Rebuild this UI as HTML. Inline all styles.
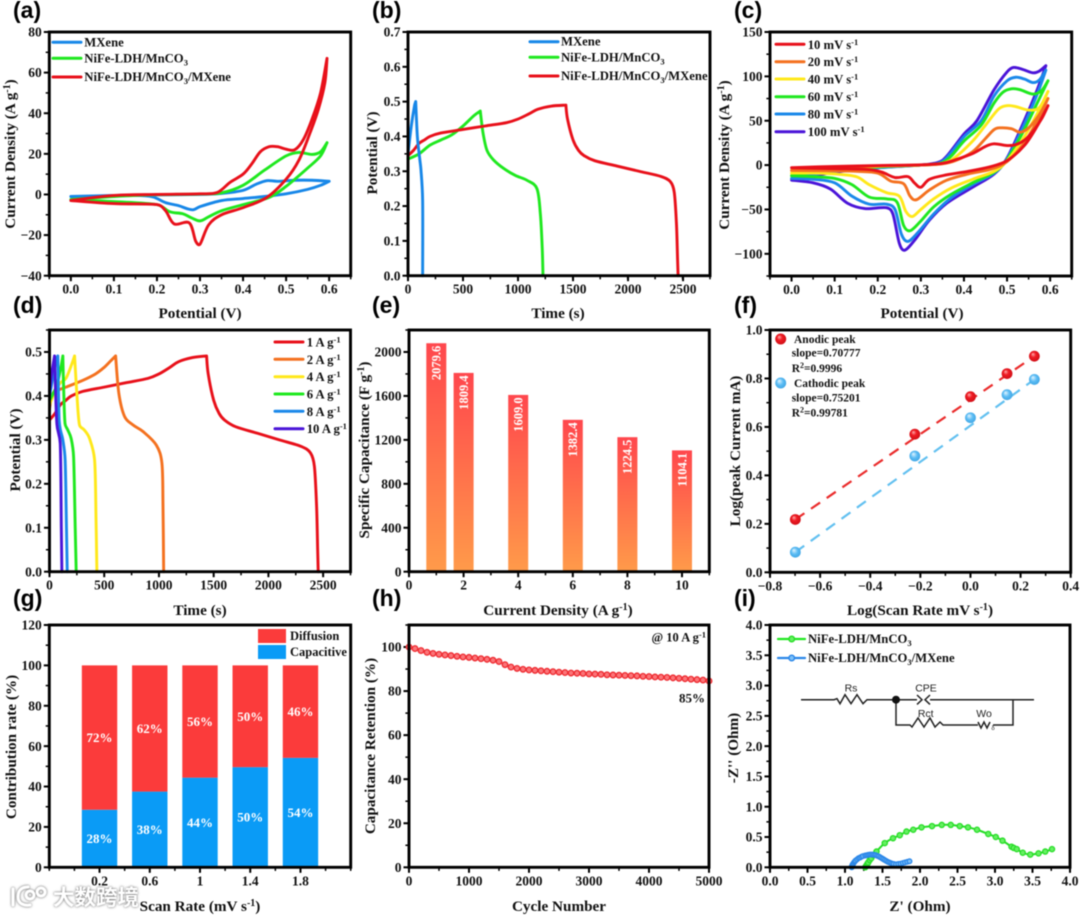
<!DOCTYPE html>
<html lang="en">
<head>
<meta charset="utf-8">
<title>Electrochemical performance figure</title>
<style>
html,body{margin:0;padding:0;background:#fff;width:1080px;height:916px;overflow:hidden}
#figure{display:block;filter:blur(0.5px);font-family:"Liberation Serif","Noto Serif CJK SC",serif;font-weight:bold;fill:#111}
.panel-letter{font-family:"Liberation Sans",sans-serif;font-size:23px;font-weight:bold;fill:#000}
.axis-title{font-size:15.2px;text-anchor:middle}
.legend-text{font-size:12.7px}
.legend-line{stroke-width:3;fill:none;stroke-linecap:round}
.circuit{stroke:#222;stroke-width:1.5;fill:none}
.circuit-text{font-family:"Liberation Sans",sans-serif;font-size:10.5px;font-weight:normal;fill:#222;text-anchor:middle}
</style>
</head>
<body>
<svg id="figure" xmlns="http://www.w3.org/2000/svg" width="1080" height="916" viewBox="0 0 1080 916">
<defs>
<linearGradient id="barGradient" x1="0" y1="0" x2="0" y2="1"><stop offset="0" stop-color="#ff474d"/><stop offset="1" stop-color="#ff9b4a"/></linearGradient>
<radialGradient id="redSphere" cx="0.5" cy="0.5" r="0.6" fx="0.35" fy="0.3"><stop offset="0" stop-color="#ffb0b0"/><stop offset="0.4" stop-color="#f01c24"/><stop offset="1" stop-color="#c80c14"/></radialGradient>
<radialGradient id="blueSphere" cx="0.5" cy="0.5" r="0.6" fx="0.35" fy="0.3"><stop offset="0" stop-color="#e4f5ff"/><stop offset="0.5" stop-color="#5bbcf4"/><stop offset="1" stop-color="#3aa0e0"/></radialGradient>
</defs>

<text class="panel-letter" x="13" y="18">(a)</text>
<text class="panel-letter" x="372" y="18">(b)</text>
<text class="panel-letter" x="734" y="18">(c)</text>
<text class="panel-letter" x="13" y="313">(d)</text>
<text class="panel-letter" x="372" y="313">(e)</text>
<text class="panel-letter" x="734" y="313">(f)</text>
<text class="panel-letter" x="13" y="606">(g)</text>
<text class="panel-letter" x="372" y="606">(h)</text>
<text class="panel-letter" x="734" y="606">(i)</text>

<text class="axis-title" x="200" y="318">Potential (V)</text>
<text class="axis-title" x="558" y="318">Time (s)</text>
<text class="axis-title" x="922" y="318">Potential (V)</text>
<text class="axis-title" x="200" y="615">Time (s)</text>
<text class="axis-title" x="558" y="615">Current Density (A g<tspan dy="-5" font-size="10">-1</tspan><tspan dy="5">)</tspan></text>
<text class="axis-title" x="920" y="615">Log(Scan Rate mV s<tspan dy="-5" font-size="10">-1</tspan><tspan dy="5">)</tspan></text>
<text class="axis-title" x="200" y="911">Scan Rate (mV s<tspan dy="-5" font-size="10">-1</tspan><tspan dy="5">)</tspan></text>
<text class="axis-title" x="559" y="911">Cycle Number</text>
<text class="axis-title" x="920" y="911">Z' (Ohm)</text>

<text class="axis-title" transform="rotate(-90 15 154)" x="15" y="154">Current Density (A g<tspan dy="-5" font-size="10">-1</tspan><tspan dy="5">)</tspan></text>
<text class="axis-title" transform="rotate(-90 377 153)" x="377" y="153">Potential (V)</text>
<text class="axis-title" transform="rotate(-90 729 155)" x="729" y="155">Current Density (A g<tspan dy="-5" font-size="10">-1</tspan><tspan dy="5">)</tspan></text>
<text class="axis-title" transform="rotate(-90 20 450)" x="20" y="450">Potential (V)</text>
<text class="axis-title" transform="rotate(-90 369 450)" x="369" y="450">Specific Capacitance (F g<tspan dy="-5" font-size="10">-1</tspan><tspan dy="5">)</tspan></text>
<text class="axis-title" transform="rotate(-90 740 451)" x="740" y="451">Log(peak Current mA)</text>
<text class="axis-title" transform="rotate(-90 16 747)" x="16" y="747">Contribution rate (%)</text>
<text class="axis-title" transform="rotate(-90 375 746)" x="375" y="746">Capacitance Retention (%)</text>
<text class="axis-title" transform="rotate(-90 738 748)" x="738" y="748">-Z'' (Ohm)</text>

<g id="plots"></g>

<g>
<line class="legend-line" x1="53" x2="81" y1="42.3" y2="42.3" stroke="#1787e8"/>
<text class="legend-text" x="84.3" y="46.7">MXene</text>
<line class="legend-line" x1="53" x2="81" y1="58.3" y2="58.3" stroke="#1fe81f"/>
<text class="legend-text" x="84.3" y="62.5">NiFe-LDH/MnCO<tspan dy="3" font-size="8.5">3</tspan></text>
<line class="legend-line" x1="53" x2="81" y1="77" y2="77" stroke="#e8101a"/>
<text class="legend-text" x="84.3" y="81">NiFe-LDH/MnCO<tspan dy="3" font-size="8.5">3</tspan><tspan dy="-3">/MXene</tspan></text>
</g>
<g>
<line class="legend-line" x1="530" x2="558" y1="41.7" y2="41.7" stroke="#1787e8"/>
<text class="legend-text" x="561" y="45.7">MXene</text>
<line class="legend-line" x1="530" x2="558" y1="57.3" y2="57.3" stroke="#1fe81f"/>
<text class="legend-text" x="561" y="61.5">NiFe-LDH/MnCO<tspan dy="3" font-size="8.5">3</tspan></text>
<line class="legend-line" x1="530" x2="558" y1="76" y2="76" stroke="#e8101a"/>
<text class="legend-text" x="561" y="80">NiFe-LDH/MnCO<tspan dy="3" font-size="8.5">3</tspan><tspan dy="-3">/MXene</tspan></text>
</g>
<g>
<line class="legend-line" x1="776" x2="804" y1="44.3" y2="44.3" stroke="#e8101a"/>
<text class="legend-text" x="807.7" y="48.8">10 mV s<tspan dy="-4" font-size="8.5">-1</tspan></text>
<line class="legend-line" x1="776" x2="804" y1="61.7" y2="61.7" stroke="#f4711f"/>
<text class="legend-text" x="807.7" y="66.2">20 mV s<tspan dy="-4" font-size="8.5">-1</tspan></text>
<line class="legend-line" x1="776" x2="804" y1="79" y2="79" stroke="#ffe81a"/>
<text class="legend-text" x="807.7" y="83.5">40 mV s<tspan dy="-4" font-size="8.5">-1</tspan></text>
<line class="legend-line" x1="776" x2="804" y1="96.7" y2="96.7" stroke="#1fe81f"/>
<text class="legend-text" x="807.7" y="101.2">60 mV s<tspan dy="-4" font-size="8.5">-1</tspan></text>
<line class="legend-line" x1="776" x2="804" y1="114" y2="114" stroke="#1a88ea"/>
<text class="legend-text" x="807.7" y="118.5">80 mV s<tspan dy="-4" font-size="8.5">-1</tspan></text>
<line class="legend-line" x1="776" x2="804" y1="131.7" y2="131.7" stroke="#4a14d8"/>
<text class="legend-text" x="807.7" y="136.2">100 mV s<tspan dy="-4" font-size="8.5">-1</tspan></text>
</g>
<g>
<line class="legend-line" x1="275" x2="303" y1="342" y2="342" stroke="#e8101a"/>
<text class="legend-text" x="306.7" y="346.5">1 A g<tspan dy="-4" font-size="8.5">-1</tspan></text>
<line class="legend-line" x1="275" x2="303" y1="359.3" y2="359.3" stroke="#f4711f"/>
<text class="legend-text" x="306.7" y="363.8">2 A g<tspan dy="-4" font-size="8.5">-1</tspan></text>
<line class="legend-line" x1="275" x2="303" y1="376.7" y2="376.7" stroke="#ffe81a"/>
<text class="legend-text" x="306.7" y="381.2">4 A g<tspan dy="-4" font-size="8.5">-1</tspan></text>
<line class="legend-line" x1="275" x2="303" y1="394" y2="394" stroke="#1fe81f"/>
<text class="legend-text" x="306.7" y="398.5">6 A g<tspan dy="-4" font-size="8.5">-1</tspan></text>
<line class="legend-line" x1="275" x2="303" y1="411.3" y2="411.3" stroke="#1a88ea"/>
<text class="legend-text" x="306.7" y="415.8">8 A g<tspan dy="-4" font-size="8.5">-1</tspan></text>
<line class="legend-line" x1="275" x2="303" y1="428.7" y2="428.7" stroke="#4a14d8"/>
<text class="legend-text" x="306.7" y="433.2">10 A g<tspan dy="-4" font-size="8.5">-1</tspan></text>
</g>
<g font-size="11.5">
<circle cx="780.7" cy="339" r="5.5" fill="url(#redSphere)"/>
<text x="794" y="343">Anodic peak</text>
<text x="791.7" y="356.7">slope=0.70777</text>
<text x="791.7" y="372">R<tspan dy="-4" font-size="8">2</tspan><tspan dy="4">=0.9996</tspan></text>
<circle cx="780.7" cy="383" r="5.5" fill="url(#blueSphere)"/>
<text x="794" y="387">Cathodic peak</text>
<text x="791.7" y="401.7">slope=0.75201</text>
<text x="791.7" y="416.7">R<tspan dy="-4" font-size="8">2</tspan><tspan dy="4">=0.99781</tspan></text>
</g>
<g>
<rect x="258" y="629" width="28" height="14" fill="#fb3b3b"/>
<text x="290" y="640" font-size="12.5">Diffusion</text>
<rect x="258" y="645" width="28" height="14" fill="#0a9bf6"/>
<text x="290" y="656" font-size="12.5">Capacitive</text>
</g>
<text x="706" y="641.7" font-size="12.5" text-anchor="end">@ 10 A g<tspan dy="-4" font-size="8.5">-1</tspan></text>
<text x="692" y="702.7" font-size="13" text-anchor="middle">85%</text>
<g>
<line class="legend-line" x1="778" x2="805" y1="639" y2="639" stroke="#1fe81f" style="stroke-width:2.2"/>
<circle cx="791.7" cy="639" r="2.8" fill="#66f062" stroke="#26dd26" stroke-width="1.4"/>
<text class="legend-text" x="808" y="643">NiFe-LDH/MnCO<tspan dy="3" font-size="8.5">3</tspan></text>
<line class="legend-line" x1="778" x2="805" y1="658" y2="658" stroke="#2a86e8" style="stroke-width:2.2"/>
<circle cx="791.7" cy="658" r="2.8" fill="#7cc0f8" stroke="#2a86e8" stroke-width="1.4"/>
<text class="legend-text" x="808" y="662">NiFe-LDH/MnCO<tspan dy="3" font-size="8.5">3</tspan><tspan dy="-3">/MXene</tspan></text>
</g>
<g>
<path class="circuit" d="M801 699.7H834l3 -1 3 5 5 -9 6 9 6 -9 6 9 4 -4H917M930 699.7H1034M1013 699.7V725H993M978 725H943l-3 -3 -5 5 -5 -9 -6 9 -6 -9 -6 9 -2 -2H896V699.7"/>
<path class="circuit" d="M917 695l5 4.7 -5 4.7M930 695l-5 4.7 5 4.7"/>
<path class="circuit" d="M978 722l3 6 3 -6 3 6 3 -6"/>
<circle cx="896" cy="699.7" r="4" fill="#111"/>
<text class="circuit-text" x="851" y="691.7">Rs</text>
<text class="circuit-text" x="926" y="691.7">CPE</text>
<text class="circuit-text" x="925.7" y="717">Rct</text>
<text class="circuit-text" x="984" y="717">Wo</text>
<text class="circuit-text" x="993" y="730" style="font-size:6px">δ</text>
</g>
<g style="filter:drop-shadow(0 0 1.2px #555)">
<path d="M13 889V905M28 887C20 887 18 892 18 897C18 903 23 906 30 905M30 891a4 4 0 1 0 .1 0M41 888a4 4 0 1 0 .1 0" fill="none" stroke="#fff" stroke-width="3" stroke-linecap="round"/>
<text x="53" y="905" font-size="21.5" style="font-family:'Noto Sans CJK SC',sans-serif;font-weight:bold" fill="#fff">大数跨境</text>
</g>
</svg>

<script>
/* ---------- panel (a) ---------- */
const aMxeneX = [0,0.1,0.2,0.3,0.35,0.4,0.43,0.455,0.48,0.52,0.56,0.6,0.58,0.55,0.5,0.45,0.4,0.35,0.3,0.285,0.27,0.25,0.22,0.19,0.15,0];
const aMxeneY = [-1,-0.5,-0.2,0,0.5,2,5,6.8,6.5,7,7,6.5,4.5,2.5,0.3,-1,-2,-3,-6,-7.5,-7,-5.5,-4,-1.2,-0.5,-1];
const aLdhX = [0,0.1,0.2,0.3,0.35,0.4,0.45,0.5,0.53,0.56,0.58,0.595,0.58,0.55,0.5,0.46,0.4,0.35,0.32,0.3,0.28,0.26,0.23,0.2,0.1,0];
const aLdhY = [-2.5,-1,-0.1,0.2,0.8,4.5,12,19,20.7,19.7,21,25.5,19,13,4,-1.5,-5,-8,-11,-13,-11.5,-9.5,-8.5,-5,-3.5,-2.5];
const aCompX = [0,0.1,0.2,0.3,0.34,0.37,0.4,0.42,0.44,0.46,0.48,0.5,0.52,0.54,0.56,0.58,0.595,0.59,0.575,0.555,0.53,0.5,0.455,0.4,0.35,0.32,0.3,0.29,0.275,0.24,0.22,0.2,0.1,0];
const aCompY = [-3,-0.5,0,0.3,1,6,10,15,21,23.5,23.5,22.3,22,27,37,50,67,55,42,30,17,7.5,-1.5,-6.5,-10,-15,-24.5,-23,-14,-14.5,-8,-5,-4.5,-3];
const aXTicks = [0,0.1,0.2,0.3,0.4,0.5,0.6];
const aYTicks = [-40,-20,0,20,40,60,80];

/* ---------- panel (b) ---------- */
const bMxeneT = [0,30,60,70,85,105,118,133,133];
const bMxeneV = [0.35,0.43,0.49,0.5,0.4,0.34,0.303,0.216,0];
const bLdhT = [0,100,200,300,400,500,600,657,682,718,779,870,976,1082,1172,1203,1220,1227];
const bLdhV = [0.335,0.35,0.375,0.39,0.405,0.43,0.46,0.473,0.41,0.36,0.332,0.308,0.288,0.274,0.25,0.178,0.08,0];
const bCompT = [0,50,100,150,200,300,500,700,900,1000,1100,1180,1300,1435,1450,1500,1550,1600,1700,1900,2100,2300,2385,2420,2440,2450,2455];
const bCompV = [0.345,0.36,0.38,0.39,0.4,0.41,0.42,0.43,0.44,0.45,0.465,0.478,0.487,0.49,0.45,0.39,0.36,0.345,0.33,0.315,0.3,0.285,0.27,0.24,0.15,0.05,0];
const bXTicks = [0,500,1000,1500,2000,2500];
const bYTicks = [0,0.1,0.2,0.3,0.4,0.5,0.6,0.7];

/* ---------- panel (c) ---------- */
const c100X = [0,0.1,0.2,0.3,0.34,0.36,0.4,0.43,0.47,0.5,0.515,0.535,0.56,0.575,0.59,0.57,0.54,0.5,0.47,0.42,0.36,0.32,0.285,0.262,0.25,0.235,0.22,0.17,0.13,0.09,0.05,0];
const c100Y = [-17,-8,-3,0,3,10,35,50,85,105,110,108,104,106,112,85,50,8,-10,-25,-43,-62,-85,-96,-88,-55,-48,-49,-43,-27,-20,-17];
const c80X = [0,0.1,0.2,0.3,0.345,0.37,0.4,0.44,0.47,0.5,0.52,0.54,0.56,0.575,0.59,0.57,0.54,0.5,0.47,0.42,0.37,0.33,0.295,0.27,0.255,0.24,0.22,0.18,0.14,0.1,0.05,0];
const c80Y = [-15,-7,-3,0,3,14,32,50,78,95,99,97,93,96,107,80,46,7,-9,-22,-37,-55,-75,-86,-78,-50,-44,-44,-35,-20,-16,-15];
const c60X = [0,0.1,0.2,0.3,0.345,0.37,0.4,0.44,0.47,0.49,0.51,0.53,0.56,0.58,0.595,0.57,0.54,0.5,0.47,0.42,0.37,0.33,0.3,0.275,0.26,0.245,0.22,0.18,0.14,0.1,0.05,0];
const c60Y = [-12,-5,-2,0,2,10,27,45,70,82,86,85,80,84,95,70,40,6,-8,-20,-33,-47,-63,-74,-68,-42,-38,-36,-22,-15,-13,-12];
const c40X = [0,0.1,0.2,0.3,0.35,0.38,0.42,0.45,0.48,0.5,0.52,0.55,0.575,0.595,0.57,0.54,0.5,0.47,0.42,0.37,0.33,0.3,0.28,0.265,0.25,0.22,0.18,0.15,0.1,0.05,0];
const c40Y = [-9,-4,-1.5,0,2,9,27,45,63,67,66,62,65,83,58,32,5,-7,-16,-26,-38,-50,-58,-52,-35,-31,-22,-13,-10,-9,-9];
const c20X = [0,0.1,0.2,0.3,0.35,0.38,0.42,0.45,0.47,0.485,0.51,0.53,0.55,0.575,0.595,0.57,0.54,0.5,0.46,0.41,0.36,0.32,0.29,0.275,0.26,0.23,0.2,0.15,0.1,0];
const c20Y = [-6,-3,-1,0,1.5,5,15,30,40,42,41,37,42,57,75,50,25,4,-5,-10,-17,-28,-39,-35,-21,-18,-9,-7,-6.5,-6];
const c10X = [0,0.1,0.2,0.3,0.35,0.38,0.42,0.45,0.47,0.5,0.52,0.54,0.56,0.58,0.595,0.57,0.54,0.5,0.46,0.41,0.36,0.32,0.3,0.285,0.27,0.24,0.21,0.18,0.1,0];
const c10Y = [-3,-1.5,-0.5,0.3,2,6,13,21,24,22,23,28,38,52,67,44,22,5,-2,-7,-11,-16,-25,-20,-13,-14,-8,-5,-4,-3];
const cXTicks = [0,0.1,0.2,0.3,0.4,0.5,0.6];
const cYTicks = [-100,-50,0,50,100,150];

/* ---------- panel (d) ---------- */
const d1T = [0,50,100,150,200,300,500,700,900,1000,1100,1180,1300,1435,1450,1500,1550,1600,1700,1900,2100,2300,2385,2420,2440,2450,2455];
const d1V = [0.345,0.36,0.38,0.39,0.4,0.41,0.42,0.43,0.44,0.45,0.465,0.478,0.487,0.491,0.45,0.39,0.36,0.345,0.33,0.315,0.3,0.285,0.27,0.24,0.15,0.05,0];
const d2T = [0,20,50,150,300,420,500,560,604,634,686,762,854,976,1027,1037,1043];
const d2V = [0.37,0.4,0.41,0.42,0.435,0.45,0.465,0.48,0.491,0.405,0.353,0.334,0.319,0.288,0.247,0.15,0];
const d4T = [0,50,100,150,200,229,250,274,320,366,412,425,433];
const d4V = [0.38,0.41,0.43,0.44,0.47,0.491,0.405,0.334,0.322,0.303,0.254,0.12,0];
const d6T = [0,60,100,122,130,142,168,198,220,235,244];
const d6V = [0.39,0.42,0.46,0.491,0.41,0.337,0.322,0.303,0.262,0.1,0];
const d8T = [0,30,60,76,82,88,100,122,143,155,162];
const d8V = [0.4,0.44,0.48,0.491,0.41,0.345,0.322,0.3,0.254,0.1,0];
const d10T = [0,20,46,67,98,108,113];
const d10V = [0.41,0.45,0.491,0.337,0.292,0.1,0];
const dXTicks = [0,500,1000,1500,2000,2500];
const dYTicks = [0,0.1,0.2,0.3,0.4,0.5];

/* ---------- panel (e) ---------- */
const eCurrent = [1,2,4,6,8,10];
const eCapacitance = [2079.6,1809.4,1609.0,1382.4,1224.5,1104.1];
const eXTicks = [0,2,4,6,8,10];
const eYTicks = [0,400,800,1200,1600,2000];

/* ---------- panel (f) ---------- */
const fLogRate = [-0.699,-0.222,0,0.146,0.255];
const fAnodic = [0.218,0.57,0.725,0.82,0.892];
const fCathodic = [0.083,0.48,0.638,0.733,0.796];
const fXTicks = [-0.8,-0.6,-0.4,-0.2,0,0.2,0.4];
const fYTicks = [0,0.2,0.4,0.6,0.8,1];

/* ---------- panel (g) ---------- */
const gScanRate = [0.2,0.6,1,1.4,1.8];
const gCapacitive = [28.5,37.5,44.4,49.6,54.2];
const gCapacitiveLabels = ['28%','38%','44%','50%','54%'];
const gDiffusionLabels = ['72%','62%','56%','50%','46%'];
const gYTicks = [0,20,40,60,80,100,120];

/* ---------- panel (h) ---------- */
const hCycles = [0,100,200,300,400,500,600,700,800,900,1000,1100,1200,1300,1400,1500,1600,1700,1800,1900,2000,2100,2200,2300,2400,2500,2600,2700,2800,2900,3000,3100,3200,3300,3400,3500,3600,3700,3800,3900,4000,4100,4200,4300,4400,4500,4600,4700,4800,4900,5000];
const hRetention = [100,99.3,98.4,97.6,97.1,96.7,96.4,96.1,95.8,95.5,95.3,95,94.7,94.4,94,93.4,92,90.9,90.3,89.9,89.6,89.4,89.2,89,88.8,88.6,88.4,88.2,88.1,88,87.8,87.7,87.6,87.4,87.3,87.2,87.1,87,86.9,86.7,86.6,86.4,86.3,86.2,86,85.8,85.6,85.4,85.2,85,84.6];
const hXTicks = [0,1000,2000,3000,4000,5000];
const hYTicks = [0,20,40,60,80,100];

/* ---------- panel (i) ---------- */
const iLdhRe = [1.27,1.28,1.29,1.3,1.31,1.33,1.35,1.38,1.42,1.53,1.64,1.73,1.82,1.91,2.02,2.16,2.29,2.41,2.53,2.64,2.76,2.91,3.01,3.1,3.22,3.25,3.29,3.37,3.47,3.58,3.67,3.76];
const iLdhIm = [0,0.02,0.04,0.06,0.08,0.12,0.15,0.2,0.26,0.4,0.48,0.53,0.59,0.62,0.66,0.68,0.7,0.7,0.68,0.66,0.62,0.55,0.5,0.44,0.34,0.32,0.3,0.24,0.21,0.23,0.26,0.3];
const iCompRe = [1.09,1.09,1.1,1.1,1.11,1.12,1.13,1.14,1.16,1.18,1.2,1.22,1.24,1.27,1.29,1.31,1.33,1.35,1.37,1.39,1.41,1.43,1.45,1.47,1.49,1.51,1.53,1.55,1.57,1.59,1.61,1.63,1.65,1.68,1.71,1.74,1.77,1.8,1.83,1.86];
const iCompIm = [0,0.015,0.03,0.045,0.06,0.08,0.095,0.11,0.13,0.15,0.16,0.175,0.185,0.195,0.2,0.205,0.21,0.21,0.21,0.205,0.2,0.19,0.18,0.165,0.15,0.135,0.12,0.105,0.09,0.08,0.07,0.06,0.055,0.05,0.055,0.06,0.07,0.08,0.09,0.1];
const iXTicks = [0,0.5,1,1.5,2,2.5,3,3.5,4];
const iYTicks = [0,0.5,1,1.5,2,2.5,3,3.5,4];

/* ---------- helpers ---------- */
const NS = 'http://www.w3.org/2000/svg';
const plots = document.getElementById('plots');

function mk(tag, attrs, parent) {
  const node = document.createElementNS(NS, tag);
  for (const k in attrs) node.setAttribute(k, attrs[k]);
  parent.appendChild(node);
  return node;
}
function linear(d0, d1, r0, r1) {
  return function (v) { return r0 + (v - d0) * (r1 - r0) / (d1 - d0); };
}
function fmt(v, digits) {
  const s = digits === null ? String(v) : v.toFixed(digits);
  return s.replace('-', '\u2212');
}
/* axes: ticks, labels and a frame; returns the scales and a marks layer under the frame */
function panel(o) {
  const g = mk('g', {}, plots);
  
  
  const x = linear(o.xd[0], o.xd[1], o.left, o.right);
  const y = linear(o.yd[0], o.yd[1], o.bottom, o.top);
  const xCount = Math.round((o.xd[1] - o.xd[0]) / o.xMinor);
  for (let i = 0; i <= xCount; i++) {
    const px = o.left + (o.right - o.left) * i / xCount;
    const m = mk('line', {x1: px, x2: px, y1: o.bottom, y2: o.bottom + 3.6, stroke: '#000', 'stroke-width': 1.5}, g);
    
    
  }
  const yCount = Math.round((o.yd[1] - o.yd[0]) / o.yMinor);
  for (let i = 0; i <= yCount; i++) {
    const py = o.bottom + (o.top - o.bottom) * i / yCount;
    const m = mk('line', {x1: o.left, x2: o.left - 3.6, y1: py, y2: py, stroke: '#000', 'stroke-width': 1.5}, g);
    
    
  }
  o.xTicks.forEach(function (v) {
    const t = mk('line', {x1: x(v), x2: x(v), y1: o.bottom, y2: o.bottom + 5.5, stroke: '#000', 'stroke-width': 2}, g);
    
    
    const l = mk('text', {x: x(v), y: o.bottom + 18, 'font-size': 13.5, 'text-anchor': 'middle'}, g);
    
    
    l.textContent = fmt(v, o.xDigits);
  });
  o.yTicks.forEach(function (v) {
    const t = mk('line', {x1: o.left, x2: o.left - 5.5, y1: y(v), y2: y(v), stroke: '#000', 'stroke-width': 2}, g);
    
    
    const l = mk('text', {x: o.left - 7.5, y: y(v) + 4.6, 'font-size': 13.5, 'text-anchor': 'end'}, g);
    
    
    l.textContent = fmt(v, o.yDigits);
  });
  const marks = mk('g', {}, g);
  
  
  const frame = mk('rect', {x: o.left, y: o.top, width: o.right - o.left, height: o.bottom - o.top, fill: 'none', stroke: '#000', 'stroke-width': 2.9}, g);
  
  
  return {x: x, y: y, marks: marks};
}
/* smooth path through points; handles clamped so the curve cannot overshoot */
function smooth(pts) {
  let d = 'M' + pts[0][0].toFixed(2) + ' ' + pts[0][1].toFixed(2);
  function handle(i, j, sign) {
    const a = pts[Math.max(i - 1, 0)], b = pts[Math.min(i + 1, pts.length - 1)];
    let hx = (b[0] - a[0]) / 6 * sign, hy = (b[1] - a[1]) / 6 * sign;
    const seg = Math.hypot(pts[j][0] - pts[i][0], pts[j][1] - pts[i][1]);
    const len = Math.hypot(hx, hy);
    const max = seg * 0.45;
    if (len > max && len > 0) { hx *= max / len; hy *= max / len; }
    return [pts[i][0] + hx, pts[i][1] + hy];
  }
  for (let i = 0; i < pts.length - 1; i++) {
    const c1 = handle(i, i + 1, 1), c2 = handle(i + 1, i, -1);
    d += 'C' + c1[0].toFixed(2) + ' ' + c1[1].toFixed(2) + ' ' + c2[0].toFixed(2) + ' ' + c2[1].toFixed(2) + ' ' + pts[i + 1][0].toFixed(2) + ' ' + pts[i + 1][1].toFixed(2);
  }
  return d;
}
/* one series, with a sharp corner at the sweep reversal: turn = 'x' (largest x) or 'y' (largest y) */
function curve(p, xs, ys, color, name, turn, width) {
  const pts = xs.map(function (v, i) { return [p.x(v), p.y(ys[i])]; });
  const key = turn === 'x' ? xs : ys;
  const k = key.indexOf(Math.max.apply(null, key));
  const d = smooth(pts.slice(0, k + 1)) + (k < pts.length - 1 ? smooth(pts.slice(k)) : '');
  const path = mk('path', {d: d, fill: 'none', stroke: color, 'stroke-width': width || 2.9, 'stroke-linejoin': 'round', 'stroke-linecap': 'round'}, p.marks);
  
  
}

const RED = '#e8101a', GREEN = '#1fe81f', BLUE = '#1787e8', ORANGE = '#f4711f', YELLOW = '#ffe81a', PURPLE = '#4a14d8', BLUE2 = '#1a88ea';

/* (a) */
const pa = panel({name: 'a', left: 49.3, right: 350.7, top: 32, bottom: 275.7, xd: [-0.05, 0.65], yd: [-40, 80], xTicks: aXTicks, yTicks: aYTicks, xDigits: 1, yDigits: 0, xMinor: 0.05, yMinor: 10});
curve(pa, aMxeneX, aMxeneY, BLUE, 'a-mxene-cv-curve', 'x');
curve(pa, aLdhX, aLdhY, GREEN, 'a-ldh-cv-curve', 'x');
curve(pa, aCompX, aCompY, RED, 'a-composite-cv-curve', 'x');

/* (b) */
const pb = panel({name: 'b', left: 408, right: 710, top: 32, bottom: 275.7, xd: [0, 2745], yd: [0, 0.7], xTicks: bXTicks, yTicks: bYTicks, xDigits: 0, yDigits: 1, xMinor: 250, yMinor: 0.05});
curve(pb, bLdhT, bLdhV, GREEN, 'b-ldh-gcd-curve', 'y');
curve(pb, bCompT, bCompV, RED, 'b-composite-gcd-curve', 'y');
curve(pb, bMxeneT, bMxeneV, BLUE, 'b-mxene-gcd-curve', 'y');

/* (c) */
const pc = panel({name: 'c', left: 770, right: 1071.7, top: 32, bottom: 276, xd: [-0.05, 0.65], yd: [-125, 150], xTicks: cXTicks, yTicks: cYTicks, xDigits: 1, yDigits: 0, xMinor: 0.05, yMinor: 25});
curve(pc, c100X, c100Y, PURPLE, 'c-100mv-curve', 'x');
curve(pc, c80X, c80Y, BLUE2, 'c-80mv-curve', 'x');
curve(pc, c60X, c60Y, GREEN, 'c-60mv-curve', 'x');
curve(pc, c40X, c40Y, YELLOW, 'c-40mv-curve', 'x');
curve(pc, c20X, c20Y, ORANGE, 'c-20mv-curve', 'x');
curve(pc, c10X, c10Y, RED, 'c-10mv-curve', 'x');

/* (d) */
const pd = panel({name: 'd', left: 49.5, right: 350.5, top: 330, bottom: 571.7, xd: [0, 2750], yd: [0, 0.55], xTicks: dXTicks, yTicks: dYTicks, xDigits: 0, yDigits: 1, xMinor: 250, yMinor: 0.05});
curve(pd, d1T, d1V, RED, 'd-1a-gcd-curve', 'y');
curve(pd, d2T, d2V, ORANGE, 'd-2a-gcd-curve', 'y');
curve(pd, d4T, d4V, YELLOW, 'd-4a-gcd-curve', 'y');
curve(pd, d6T, d6V, GREEN, 'd-6a-gcd-curve', 'y');
curve(pd, d8T, d8V, BLUE2, 'd-8a-gcd-curve', 'y');
curve(pd, d10T, d10V, PURPLE, 'd-10a-gcd-curve', 'y');

/* (e) */
const pe = panel({name: 'e', left: 409, right: 709.3, top: 330, bottom: 571.7, xd: [0, 11], yd: [0, 2200], xTicks: eXTicks, yTicks: eYTicks, xDigits: 0, yDigits: 0, xMinor: 1, yMinor: 200});
eCurrent.forEach(function (c, i) {
  const cx = pe.x(c), top = pe.y(eCapacitance[i]);
  const bar = mk('rect', {x: cx - 10, y: top, width: 20, height: pe.y(0) - top, fill: 'url(#barGradient)'}, pe.marks);
  
  
  const lab = mk('text', {x: cx + 4.3, y: top + 2.5, 'font-size': 12.5, fill: '#fff', 'text-anchor': 'end', transform: 'rotate(-90 ' + (cx + 4.3) + ' ' + (top + 2.5) + ')'}, pe.marks);
  
  
  lab.textContent = eCapacitance[i].toFixed(1);
});

/* (f) */
const pf = panel({name: 'f', left: 770, right: 1070.7, top: 330, bottom: 572.3, xd: [-0.8, 0.4], yd: [0, 1], xTicks: fXTicks, yTicks: fYTicks, xDigits: 1, yDigits: 1, xMinor: 0.1, yMinor: 0.1});
function regression(p, xs, ys, lineColor, fillId, name) {
  const n = xs.length - 1;
  const fit = mk('line', {x1: p.x(xs[0]), y1: p.y(ys[0]), x2: p.x(xs[n]), y2: p.y(ys[n]), stroke: lineColor, 'stroke-width': 2.2, 'stroke-dasharray': '11 8'}, p.marks);
  
  
  xs.forEach(function (v, i) {
    const dot = mk('circle', {cx: p.x(v), cy: p.y(ys[i]), r: 5.4, fill: 'url(#' + fillId + ')'}, p.marks);
    
    
  });
}
regression(pf, fLogRate, fAnodic, '#ea2c2c', 'redSphere', 'f-anodic');
regression(pf, fLogRate, fCathodic, '#62c0f0', 'blueSphere', 'f-cathodic');

/* (g) */
const pg = panel({name: 'g', left: 49.3, right: 350.7, top: 625, bottom: 867.3, xd: [-0.2, 2.2], yd: [0, 120], xTicks: gScanRate, yTicks: gYTicks, xDigits: null, yDigits: 0, xMinor: 0.2, yMinor: 10});
gScanRate.forEach(function (r, i) {
  const cx = pg.x(r), split = pg.y(gCapacitive[i]), top = pg.y(100), base = pg.y(0);
  const cap = mk('rect', {x: cx - 17.7, y: split, width: 35.4, height: base - split, fill: '#0a9bf6'}, pg.marks);
  
  
  const dif = mk('rect', {x: cx - 17.7, y: top, width: 35.4, height: split - top, fill: '#fb3b3b'}, pg.marks);
  
  
  const l1 = mk('text', {x: cx, y: (split + base) / 2 + 4.5, 'font-size': 13, fill: '#fff', 'text-anchor': 'middle'}, pg.marks);
  
  
  l1.textContent = gCapacitiveLabels[i];
  const l2 = mk('text', {x: cx, y: (split + top) / 2 + 4.5, 'font-size': 13, fill: '#fff', 'text-anchor': 'middle'}, pg.marks);
  
  
  l2.textContent = gDiffusionLabels[i];
});

/* (h) */
const ph = panel({name: 'h', left: 409, right: 709, top: 625, bottom: 867.3, xd: [0, 5000], yd: [0, 110], xTicks: hXTicks, yTicks: hYTicks, xDigits: 0, yDigits: 0, xMinor: 500, yMinor: 10});
hCycles.forEach(function (c, i) {
  const dot = mk('circle', {cx: ph.x(c), cy: ph.y(hRetention[i]), r: 2.8, fill: '#fb7478', stroke: '#ee2a30', 'stroke-width': 1.3}, ph.marks);
  
  
});

/* (i) */
const pi = panel({name: 'i', left: 770, right: 1070, top: 625, bottom: 867.3, xd: [0, 4], yd: [0, 4], xTicks: iXTicks, yTicks: iYTicks, xDigits: 1, yDigits: 1, xMinor: 0.25, yMinor: 0.25});
function nyquist(p, xs, ys, lineColor, dotFill, radius, name) {
  const pts = xs.map(function (v, i) { return [p.x(v), p.y(ys[i])]; });
  const line = mk('path', {d: smooth(pts), fill: 'none', stroke: lineColor, 'stroke-width': 2}, p.marks);
  
  
  pts.forEach(function (q) {
    const dot = mk('circle', {cx: q[0], cy: q[1], r: radius, fill: dotFill, stroke: lineColor, 'stroke-width': 1.3}, p.marks);
    
    
  });
}
nyquist(pi, iLdhRe, iLdhIm, '#26dd26', '#66f062', 2.6, 'i-ldh');
nyquist(pi, iCompRe, iCompIm, '#2a86e8', '#7cc0f8', 2.3, 'i-composite');
</script>
</body>
</html>
